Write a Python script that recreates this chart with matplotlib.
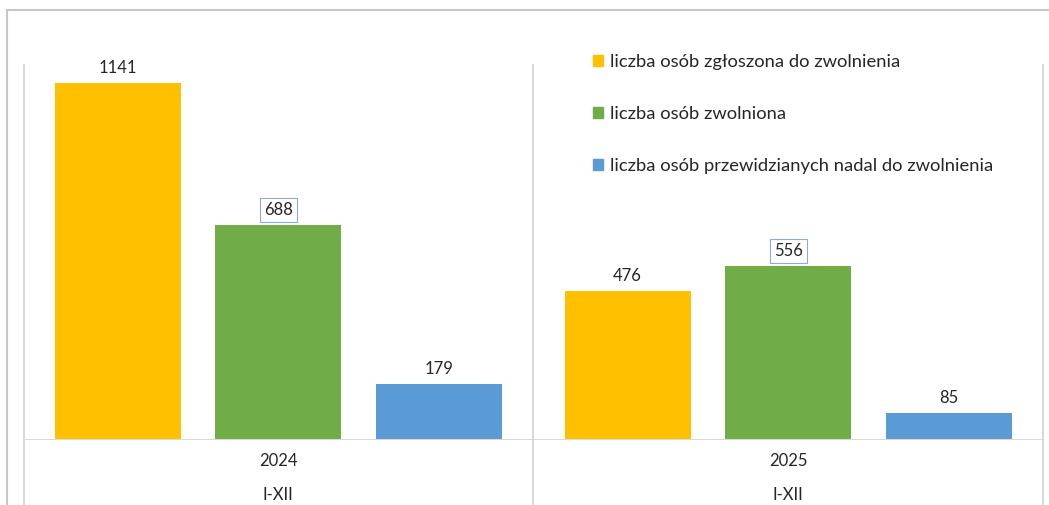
import matplotlib.pyplot as plt
import matplotlib.patches as mpatches
from matplotlib.lines import Line2D
import matplotlib.transforms as mtransforms

plt.rcParams['font.family'] = ['Lato', 'DejaVu Sans']

# Dane
years = ['2024', '2025']
period = ['I-XII', 'I-XII']
series_names = [
    'liczba osób zgłoszona do zwolnienia',
    'liczba osób zwolniona',
    'liczba osób przewidzianych nadal do zwolnienia',
]
zgloszone = [1141, 476]
zwolnione = [688, 556]
przewidziane = [179, 85]

colors = ['#FFC000', '#70AD47', '#5B9BD5']
grid_c = '#D9D9D9'
text_c = '#262626'

W, H = 1049, 505
fig = plt.figure(figsize=(W / 100, H / 100), dpi=100)
ax = fig.add_axes([23.5 / W, (H - 439.5) / H, (1043 - 23.5) / W, (439.5 - 65) / H])

centers = [0.5, 1.5]
offsets = [-0.315, 0.0, 0.315]
bar_w = 0.247
values = [zgloszone, zwolnione, przewidziane]

for i, vals in enumerate(values):
    xs = [c + offsets[i] for c in centers]
    ax.bar(xs, vals, width=bar_w, color=colors[i], zorder=3)
    for x, v in zip(xs, vals):
        box = None
        if i == 1:
            box = dict(boxstyle='square,pad=0.25', fc='white', ec='#8EA9DB', lw=0.8)
        ax.annotate(str(v), (x, v), xytext=(0, 5), textcoords='offset points',
                    ha='center', va='bottom', fontsize=12, color=text_c, bbox=box)

ax.set_xlim(0, 2)
ax.set_ylim(0, 1200)
ax.set_xticks([])
ax.set_yticks([])
for s in ax.spines.values():
    s.set_visible(False)

# linie kategorii (siatka + tabela osi)
trans = mtransforms.blended_transform_factory(ax.transData, ax.transAxes)
for x in [0, 1, 2]:
    ax.plot([x, x], [-0.2, 1], color=grid_c, lw=1.5, transform=trans, clip_on=False, zorder=1)
ax.axhline(0, color=grid_c, lw=1.5, zorder=4)

for c, y, p in zip(centers, years, period):
    ax.text(c, -0.0587, y, transform=trans, ha='center', va='center', fontsize=12, color=text_c)
    ax.text(c, -0.148, p, transform=trans, ha='center', va='center', fontsize=12, color=text_c)

# ramka wykresu
fig.add_artist(Line2D([6.5 / W, 6.5 / W], [0, 1 - 9.5 / H], color='#C8C8C8', lw=1.5))
fig.add_artist(Line2D([6.5 / W, 1], [1 - 9.5 / H, 1 - 9.5 / H], color='#C8C8C8', lw=1.5))

handles = [mpatches.Patch(color=c) for c in colors]
ax.legend(handles, series_names, loc='upper left', bbox_to_anchor=(593 / W, 1 - 54 / H),
          bbox_transform=fig.transFigure, frameon=False, fontsize=13.25,
          handlelength=0.57, handleheight=0.57, handletextpad=0.33,
          labelspacing=1.96, borderpad=0, borderaxespad=0, labelcolor=text_c)

plt.savefig('out.png', dpi=100)
